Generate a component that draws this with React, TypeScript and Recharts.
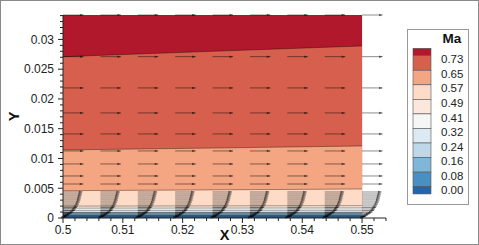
import React from "react";
import { ComposedChart, Area, XAxis, YAxis, ReferenceLine, Legend } from "recharts";

const FONT = "'Liberation Sans', Arial, Helvetica, sans-serif";

// contour level boundaries (y at each x station)
const contourX = [0.5, 0.525, 0.55];
const yTop = [0.0341, 0.0341, 0.0341];
const lvl073 = [0.0271, 0.028, 0.0289];
const lvl065 = [0.01143, 0.01175, 0.0121];
const lvl057 = [0.00459, 0.00472, 0.00487];
const lvl049 = [0.002, 0.00203, 0.00207];
const lvl041 = [0.00165, 0.00167, 0.0017];
const lvl032 = [0.00128, 0.0013, 0.00132];
const lvl024 = [0.00093, 0.00094, 0.00095];
const lvl016 = [0.0007, 0.0007, 0.00071];
const lvl008 = [0.00045, 0.00045, 0.00046];
const lvl000 = [0.0002, 0.0002, 0.0002];

const levelLabels = ["0.73", "0.65", "0.57", "0.49", "0.41", "0.32", "0.24", "0.16", "0.08", "0.00"];
const bandColors = [
  "#B2182B", "#D6604D", "#F4A582", "#FDDBC7", "#FCE7DC", "#F6F6F6",
  "#DDEAF3", "#BCD8E9", "#80B6D7", "#4A8FC2", "#2166AC",
];
const bandTops = [yTop, lvl073, lvl065, lvl057, lvl049, lvl041, lvl032, lvl024, lvl016, lvl008, lvl000];

// velocity vectors (tail positions and x-length per row)
const vecX = [0.5, 0.50625, 0.5125, 0.51875, 0.525, 0.53125, 0.5375, 0.54375, 0.55];
const vecY = [
  0.0341, 0.0271, 0.02185, 0.01765, 0.01412, 0.01126, 0.00908, 0.00706, 0.00571, 0.00437,
  0.00403, 0.0037, 0.00336, 0.00303, 0.00269, 0.00235, 0.00202, 0.00176, 0.00151, 0.00126,
  0.00101, 0.00084, 0.00067, 0.0005, 0.00034, 0.00025, 0.00017, 0.00008,
];
const vecU = [
  0.00343, 0.00343, 0.00343, 0.00343, 0.00343, 0.00343, 0.00343, 0.00343, 0.0034, 0.00326,
  0.00318, 0.00309, 0.00301, 0.00293, 0.00281, 0.00268, 0.00251, 0.00234, 0.00217, 0.00201,
  0.00176, 0.00151, 0.00125, 0.001, 0.00075, 0.00059, 0.00042, 0.00025,
];

const xMajor = [0.5, 0.51, 0.52, 0.53, 0.54, 0.55];
const xMajorLabels = ["0.5", "0.51", "0.52", "0.53", "0.54", "0.55"];
const yMajor = [0, 0.005, 0.01, 0.015, 0.02, 0.025, 0.03];
const yMajorLabels = ["0", "0.005", "0.01", "0.015", "0.02", "0.025", "0.03"];
const xTicks = Array.from({ length: 28 }, (_, i) => +(0.5 + i * 0.002).toFixed(3));
const yTicks = Array.from({ length: 35 }, (_, i) => +(i * 0.001).toFixed(3));

const contourData = contourX.map((x, i) => {
  const row: Record<string, number> = { x };
  bandTops.forEach((b, k) => (row[`b${k}`] = b[i]));
  return row;
});

const Arrow = (props: any) => {
  const { x1, y1, x2, y2 } = props;
  const dx = x2 - x1;
  const dy = y2 - y1;
  const len = Math.hypot(dx, dy) || 1;
  const ux = dx / len;
  const uy = dy / len;
  const hl = 3.6;
  const hw = 1.25;
  const bx = x2 - ux * hl;
  const by = y2 - uy * hl;
  const pts = `${x2},${y2} ${bx - uy * hw},${by + ux * hw} ${bx + uy * hw},${by - ux * hw}`;
  return (
    <g>
      <line x1={x1} y1={y1} x2={x2} y2={y2} stroke="#000" strokeOpacity={0.45} strokeWidth={1} />
      <polygon points={pts} fill="#000" fillOpacity={0.55} />
    </g>
  );
};

const XTick = (props: any) => {
  const { x, y, payload } = props;
  const idx = xMajor.findIndex((v) => Math.abs(v - payload.value) < 1e-9);
  return (
    <g>
      <line x1={x} y1={y} x2={x} y2={y + (idx >= 0 ? 5 : 3)} stroke="#222" />
      {idx >= 0 && (
        <text x={x} y={y + 15.6} textAnchor="middle" fontSize={12} fontFamily={FONT} fill="#222">
          {xMajorLabels[idx]}
        </text>
      )}
    </g>
  );
};

const YTick = (props: any) => {
  const { x, y, payload } = props;
  const idx = yMajor.findIndex((v) => Math.abs(v - payload.value) < 1e-9);
  return (
    <g>
      <line x1={x} y1={y} x2={x - (idx >= 0 ? 5 : 3)} y2={y} stroke="#222" />
      {idx >= 0 && (
        <text x={x - 9} y={y + 4.3} textAnchor="end" fontSize={12} fontFamily={FONT} fill="#222">
          {yMajorLabels[idx]}
        </text>
      )}
    </g>
  );
};

const MaLegend = () => {
  const top = 19.3;
  const first = 26.7;
  const step = 14.55;
  const bounds = [top, ...levelLabels.map((_, i) => first + i * step), first + (levelLabels.length - 1) * step + 7.3];
  return (
    <svg width={62} height={176} style={{ display: "block" }}>
      <rect x={0.5} y={0.5} width={61} height={175} fill="#fff" stroke="#999" />
      <text x={45} y={14} textAnchor="middle" fontSize={13.5} fontWeight="bold" fontFamily={FONT} fill="#111">
        Ma
      </text>
      {bandColors.map((c, i) => (
        <rect
          key={c}
          x={6}
          y={bounds[i]}
          width={18}
          height={bounds[i + 1] - bounds[i]}
          fill={c}
          stroke="#555"
          strokeWidth={0.6}
        />
      ))}
      {levelLabels.map((l, i) => (
        <text key={l} x={34} y={first + i * step + 7.6} fontSize={11.5} fontFamily={FONT} fill="#222">
          {l}
        </text>
      ))}
    </svg>
  );
};

export default function App() {
  return (
    <div
      style={{
        position: "absolute",
        left: 0,
        top: 0,
        width: 479,
        height: 245,
        border: "1px solid #8a8a8a",
        boxSizing: "border-box",
        background: "#fff",
      }}
    >
      <ComposedChart
        width={477}
        height={243}
        data={contourData}
        margin={{ top: 14, right: 92, bottom: 0, left: 0 }}
      >
        <XAxis
          dataKey="x"
          type="number"
          domain={[0.5, 0.554]}
          allowDataOverflow
          ticks={xTicks}
          interval={0}
          tickSize={0}
          tickMargin={0}
          tickLine={false}
          tick={<XTick />}
          height={26}
          stroke="#222"
          label={(p: any) => {
            const vb = p.viewBox || {};
            return (
              <text
                x={vb.x + vb.width / 2}
                y={vb.y + 22}
                textAnchor="middle"
                fontSize={14.5}
                fontWeight="bold"
                fontFamily={FONT}
                fill="#111"
              >
                X
              </text>
            );
          }}
        />
        <YAxis
          type="number"
          domain={[0, 0.0341]}
          allowDataOverflow
          ticks={yTicks}
          interval={0}
          tickSize={0}
          tickMargin={0}
          tickLine={false}
          tick={<YTick />}
          width={62}
          stroke="#222"
          label={(p: any) => {
            const vb = p.viewBox || {};
            const cy = vb.y + vb.height / 2;
            return (
              <text
                x={13}
                y={cy}
                transform={`rotate(-90 13 ${cy})`}
                textAnchor="middle"
                dominantBaseline="central"
                fontSize={14.5}
                fontWeight="bold"
                fontFamily={FONT}
                fill="#111"
              >
                Y
              </text>
            );
          }}
        />
        {bandTops.map((_, k) => (
          <Area
            key={`b${k}`}
            dataKey={`b${k}`}
            type="linear"
            fill={bandColors[k]}
            fillOpacity={1}
            stroke={k === 0 ? "none" : "#000"}
            strokeOpacity={k >= 7 ? 0.65 : 0.45}
            strokeWidth={0.8}
            dot={false}
            activeDot={false}
            isAnimationActive={false}
          />
        ))}
        {vecX.map((x) =>
          vecY.map((y, j) => (
            <ReferenceLine
              key={`v-${x}-${j}`}
              segment={[
                { x, y },
                { x: x + vecU[j], y },
              ]}
              ifOverflow="visible"
              shape={Arrow}
            />
          ))
        )}
        <Legend
          layout="vertical"
          align="center"
          verticalAlign="middle"
          wrapperStyle={{ left: 406, top: 28, width: 62, height: 176 }}
          content={() => <MaLegend />}
        />
      </ComposedChart>
    </div>
  );
}
